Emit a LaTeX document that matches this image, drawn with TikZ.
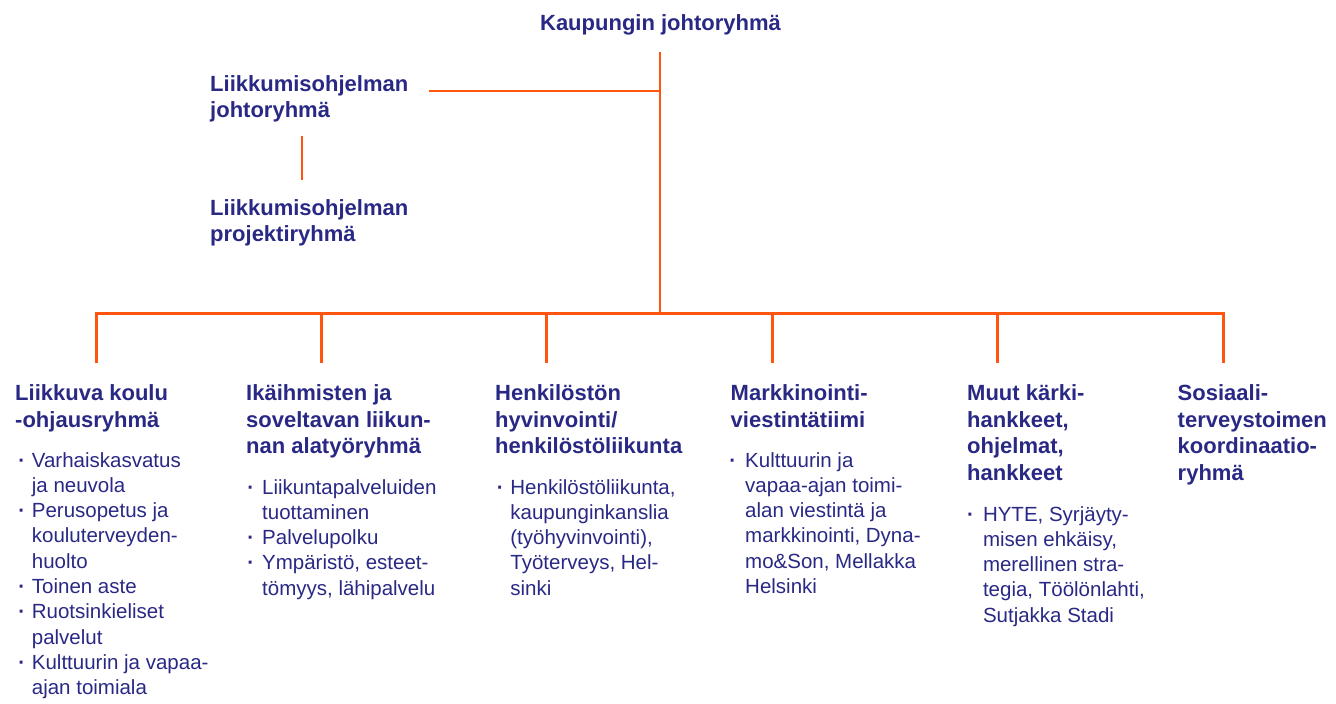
\documentclass[tikz,border=0pt]{standalone}
\usepackage{fontspec}
\setmainfont{Liberation Sans}
\definecolor{navy}{RGB}{41,41,133}
\definecolor{orng}{RGB}{255,85,15}
\newcommand\hfnt{\fontsize{22}{26.7}\selectfont\bfseries}
\newcommand\bfnt{\fontsize{20.5}{25.3}\selectfont}
\newcommand\bu[1]{\llap{\hbox to #1{\hss{\bfseries ·}\hss}}}
\newcommand\tl[1]{\begin{tabular}[t]{@{}l@{}}#1\end{tabular}}
\begin{document}
\begin{tikzpicture}[x=1pt,y=-1pt,
  hd/.style={anchor=base west,inner sep=0pt,text=navy,font=\hfnt},
  bd/.style={anchor=base west,inner sep=0pt,text=navy,font=\bfnt},
  ln/.style={draw=orng,line width=2.8pt}]
\useasboundingbox (0,0) rectangle (1336,704);

% top part
\node[hd,anchor=base] (kj) at (660.5,30) {Kaupungin johtoryhmä};
\node[hd] (lj) at (210,91) {\tl{Liikkumisohjelman\\johtoryhmä}};
\node[hd] (lp) at (210,215) {\tl{Liikkumisohjelman\\projektiryhmä}};

\coordinate (t0) at (660,52);
\coordinate (tj) at (660,91);
\coordinate (hj) at (429,91);
\coordinate (b0) at (660,313);
\coordinate (s1) at (302,136);
\coordinate (s2) at (302,180);

\draw[ln] (t0) -- (b0);
\draw[ln] (hj) -- (tj);
\draw[ln] (s1) -- (s2);

% bus
\foreach \k in {1,...,6}{
  \coordinate (d\k) at ({96+(\k-1)*225.4},313);
  \coordinate (e\k) at ({96+(\k-1)*225.4},363);
}
\draw[ln,line width=3pt] (e1) -- (d1) -- (d6) -- (e6);
\foreach \k in {2,...,5}{\draw[ln,line width=3pt] (d\k) -- (e\k);}

% column headings
\node[hd] (h1) at (15,400.5) {\tl{Liikkuva koulu\\-ohjausryhmä}};
\node[hd] (h2) at (246,400.5) {\tl{Ikäihmisten ja\\soveltavan liikun-\\nan alatyöryhmä}};
\node[hd] (h3) at (495,400.5) {\tl{Henkilöstön\\hyvinvointi/\\henkilöstöliikunta}};
\node[hd] (h4) at (730.5,400.5) {\tl{Markkinointi-\\viestintätiimi}};
\node[hd] (h5) at (967,400.5) {\tl{Muut kärki-\\hankkeet,\\ohjelmat,\\hankkeet}};
\node[hd] (h6) at (1177.5,400.5) {\tl{Sosiaali-\\terveystoimen\\koordinaatio-\\ryhmä}};

% bullet lists
\node[bd] (l1) at (31.7,467) {\tl{\bu{20pt}Varhaiskasvatus\\ja neuvola\\\bu{20pt}Perusopetus ja\\kouluterveyden-\\huolto\\\bu{20pt}Toinen aste\\\bu{20pt}Ruotsinkieliset\\palvelut\\\bu{20pt}Kulttuurin ja vapaa-\\ajan toimiala}};
\node[bd] (l2) at (262,494) {\tl{\bu{22.6pt}Liikuntapalveluiden\\tuottaminen\\\bu{22.6pt}Palvelupolku\\\bu{22.6pt}Ympäristö, esteet-\\tömyys, lähipalvelu}};
\node[bd] (l3) at (510.2,494) {\tl{\bu{20pt}Henkilöstöliikunta,\\kaupunginkanslia\\(työhyvinvointi),\\Työterveys, Hel-\\sinki}};
\node[bd] (l4) at (745,467) {\tl{\bu{25pt}Kulttuurin ja\\vapaa-ajan toimi-\\alan viestintä ja\\markkinointi, Dyna-\\mo\&Son, Mellakka\\Helsinki}};
\node[bd] (l5) at (982.8,521) {\tl{\bu{25pt}HYTE, Syrjäyty-\\misen ehkäisy,\\merellinen stra-\\tegia, Töölönlahti,\\Sutjakka Stadi}};
\end{tikzpicture}
\end{document}
